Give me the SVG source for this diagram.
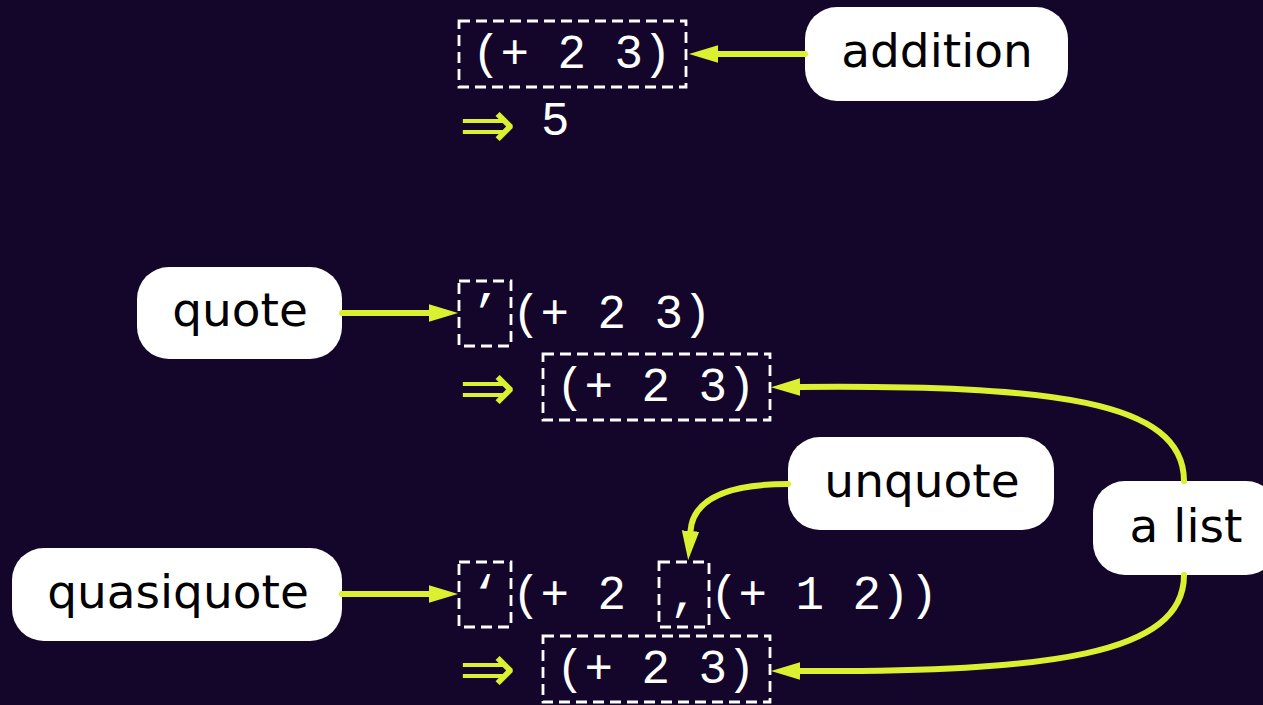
<svg xmlns="http://www.w3.org/2000/svg" width="1263" height="705" viewBox="0 0 1263 705">
<defs>
<style>
.bg{fill:#14062a}
.code{font-family:"Liberation Mono","DejaVu Sans Mono",monospace;font-size:47.5px;fill:#ffffff}
.imp{font-family:"DejaVu Sans",sans-serif;font-size:68px;fill:#daf030}
.dash{fill:none;stroke:#ffffff;stroke-width:2.8;stroke-dasharray:11 6}
.label rect{fill:#ffffff}
.label text{font-family:"DejaVu Sans",sans-serif;font-size:47px;fill:#000000;text-anchor:middle}
.conn{fill:none;stroke:#daf030;stroke-width:6;stroke-linecap:round}
</style>
<marker id="ah" markerUnits="userSpaceOnUse" markerWidth="32" markerHeight="20" viewBox="0 -10 32 20" refX="0" refY="0" orient="auto">
<path d="M0,-8.7 L29,0 L0,8.7 z" fill="#daf030"/>
</marker>
</defs>
<rect class="bg" x="0" y="0" width="1263" height="705"/>

<g id="expr-addition">
<rect class="dash" x="459" y="21" width="227" height="66"/>
<text class="code" x="472" y="68">(+ 2 3)</text>
</g>
<g id="result-addition">
<text class="imp" x="459" y="148">⇒</text>
<text class="code" x="541" y="135">5</text>
</g>

<g id="expr-quote">
<rect class="dash" x="459" y="281" width="52" height="65"/>
<text class="code" x="485" y="328" text-anchor="middle">’</text>
<text class="code" x="512" y="328">(+ 2 3)</text>
</g>
<g id="result-quote">
<text class="imp" x="459" y="410.5">⇒</text>
<rect class="dash" x="543" y="354" width="227" height="66"/>
<text class="code" x="556" y="401">(+ 2 3)</text>
</g>

<g id="expr-quasiquote">
<rect class="dash" x="459" y="562" width="52" height="65"/>
<text class="code" x="485" y="609" text-anchor="middle">‘</text>
<text class="code" x="512" y="609">(+ 2</text>
<rect class="dash" x="659" y="562" width="50" height="65"/>
<text class="code" x="684" y="609" text-anchor="middle">,</text>
<text class="code" x="710" y="609">(+ 1 2))</text>
</g>
<g id="result-quasiquote">
<text class="imp" x="459" y="691.5">⇒</text>
<rect class="dash" x="543" y="636" width="227" height="66"/>
<text class="code" x="556" y="683">(+ 2 3)</text>
</g>

<g id="node-addition" class="label">
<rect x="805" y="7" width="263" height="94" rx="32"/>
<text x="937" y="67">addition</text>
</g>
<g id="node-quote" class="label">
<rect x="137" y="267" width="205" height="92" rx="32"/>
<text x="240" y="326">quote</text>
</g>
<g id="node-unquote" class="label">
<rect x="788" y="437" width="266" height="93" rx="32"/>
<text x="922" y="497">unquote</text>
</g>
<g id="node-quasiquote" class="label">
<rect x="12" y="548" width="330" height="93" rx="32"/>
<text x="178" y="608">quasiquote</text>
</g>
<g id="node-alist" class="label">
<rect x="1093" y="481" width="185" height="94" rx="32"/>
<text x="1186" y="542">a list</text>
</g>

<g id="connectors">
<path class="conn" d="M805,54 L718,54" marker-end="url(#ah)"/>
<path class="conn" d="M342,313 L429,313" marker-end="url(#ah)"/>
<path class="conn" d="M342,594 L429,594" marker-end="url(#ah)"/>
<path class="conn" d="M788,484 C725,484 693,500 690.5,531" marker-end="url(#ah)"/>
<path class="conn" d="M1184,481 C1184,400 1050,385 800,387" marker-end="url(#ah)"/>
<path class="conn" d="M1184,575 C1184,655 1050,672 800,671" marker-end="url(#ah)"/>
</g>
</svg>
